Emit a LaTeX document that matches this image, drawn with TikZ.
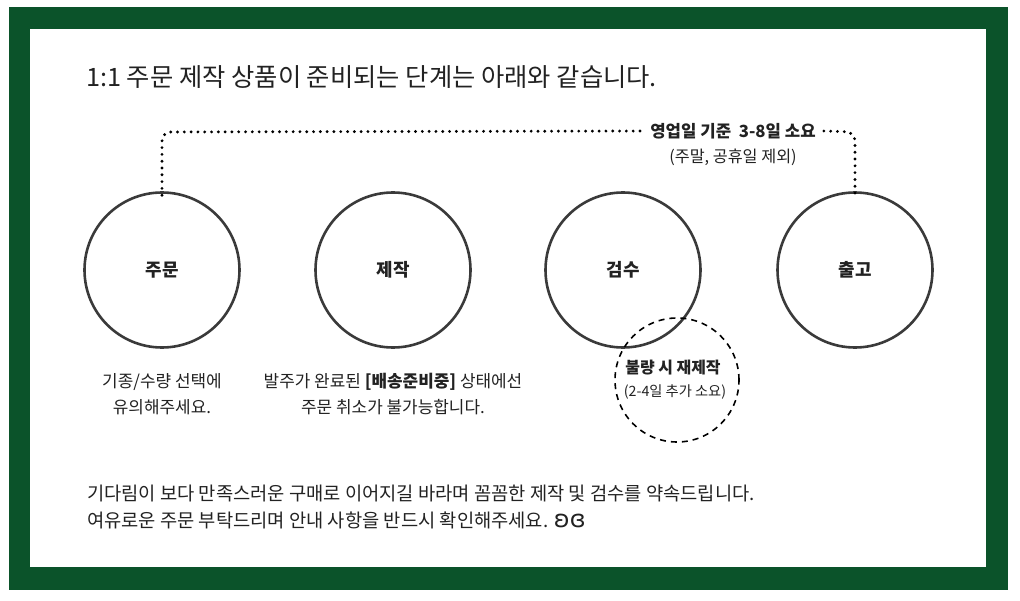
\documentclass[tikz,border=0pt]{standalone}
\usepackage{fontspec}
\setmainfont{Noto Sans CJK KR}
\newfontfamily\ipafont{DejaVu Sans}
\definecolor{frame}{HTML}{0B532A}
\definecolor{ink}{HTML}{222222}
\definecolor{ring}{HTML}{3A3A3A}
\tikzset{
  stage/.style={circle, draw=ring, line width=2.6pt, minimum size=155bp, inner sep=0pt, font=\fontsize{18}{20}\selectfont\bfseries, text=ink},
  redo/.style={circle, draw=black, line width=1.6pt, dash pattern=on 6bp off 5bp, minimum size=124bp, inner sep=0pt},
  body/.style={text=ink, inner sep=0pt, font=\fontsize{17}{26}\selectfont, align=center},
  dots/.style={line width=3.2pt, line cap=round, dash pattern=on 0pt off 6.8bp, draw=black},
}
\begin{document}
\begin{tikzpicture}[x=1bp, y=-1bp]
\useasboundingbox (0,0) rectangle (1020,601);
\fill[white] (0,0) rectangle (1020,601);
\fill[frame] (9,7) rectangle (1008,590);
\fill[white] (30,29) rectangle (986,567);
% title
\node[anchor=west, inner sep=0pt, text=ink, font=\fontsize{25.4}{28}\selectfont] (title) at (86,77) {1:1 주문 제작 상품이 준비되는 단계는 아래와 같습니다.};
% stages
\node[stage] (c1) at (162,270) {주문};
\node[stage] (c2) at (393,270) {제작};
\node[stage] (c3) at (623,270) {검수};
\node[stage] (c4) at (855,270) {출고};
\node[redo] (rd) at (677,380) {};
\node[inner sep=0pt, text=ink, font=\fontsize{16}{18}\selectfont\bfseries] (rdt) at (673,368) {불량 시 재제작};
\node[inner sep=0pt, text=ink, font=\fontsize{14.3}{16}\selectfont] (rds) at (675,392) {(2-4일 추가 소요)};
% duration label
\node[inner sep=0pt, text=ink, font=\fontsize{16.8}{19}\selectfont\bfseries] (dur) at (733,131) {영업일 기준~ 3-8일 소요};
\node[inner sep=0pt, text=ink, font=\fontsize{16.3}{18}\selectfont] (durs) at (733,157) {(주말, 공휴일 제외)};
\coordinate (lt) at (162,132);
\coordinate (rt) at (855,132);
\draw[dots, rounded corners=9bp] ([yshift=-4bp]c1.north) -- (lt) -- ([xshift=-8bp]dur.west);
\draw[dots, rounded corners=9bp] ([xshift=8bp]dur.east) -- (rt) -- ([yshift=-4bp]c4.north);
% notes
\node[body] (n1) at (162,394) {기종/수량 선택에\\유의해주세요.};
\node[body] (n2) at (393,394) {발주가 완료된 \textbf{[배송준비중]} 상태에선\\주문 취소가 불가능합니다.};
\node[body, anchor=west, align=left, font=\fontsize{18.8}{28}\selectfont] (foot) at (87,507) {기다림이 보다 만족스러운 구매로 이어지길 바라며 꼼꼼한 제작 및 검수를 약속드립니다.\\여유로운 주문 부탁드리며 안내 사항을 반드시 확인해주세요. {\ipafont\fontsize{24}{28}\selectfont ʚɞ}};
\end{tikzpicture}
\end{document}
